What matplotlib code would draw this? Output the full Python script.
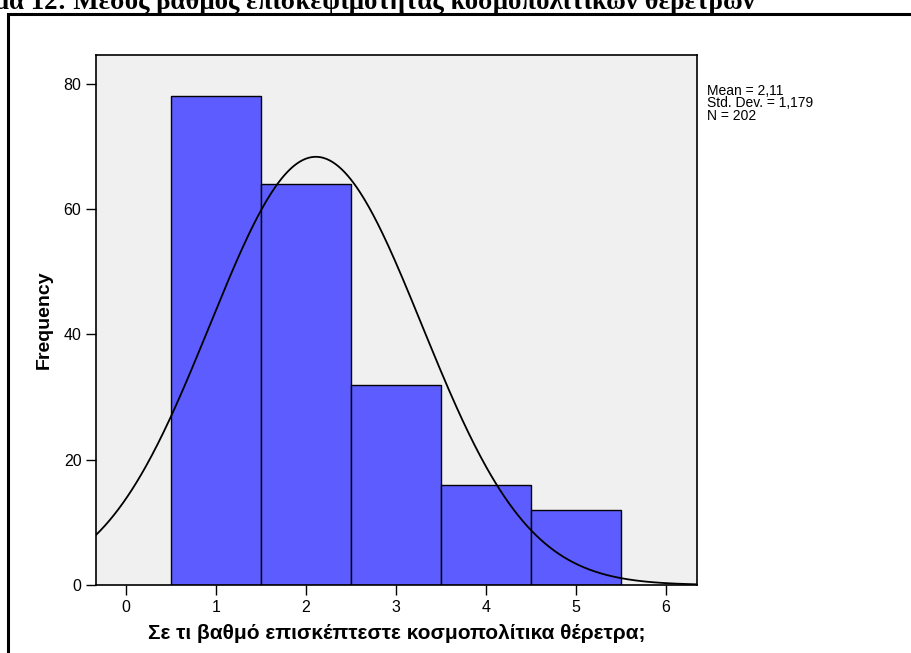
import numpy as np
import matplotlib.pyplot as plt
from matplotlib import font_manager
from matplotlib.patches import Rectangle

# ------------------------------
# DATA
# ------------------------------
scores = [1, 2, 3, 4, 5]
freqs = [78, 64, 32, 16, 12]
mean_val = 2.11
std_val = 1.179
n_total = 202
x_ticks = [0, 1, 2, 3, 4, 5, 6]
y_ticks = [0, 20, 40, 60, 80]

plt.rcParams['font.family'] = ['Liberation Sans', 'DejaVu Sans']

installed = {f.name for f in font_manager.fontManager.ttflist}
NARROW = 'Liberation Sans Narrow' if 'Liberation Sans Narrow' in installed else 'Liberation Sans'

fig = plt.figure(figsize=(9.12, 6.53), dpi=100)
fig.patch.set_facecolor('white')

# cut-off caption at the top of the page
fig.text(755 / 912, 1 - 9 / 653, "Γράφημα 12: Μέσος βαθμός επισκεψιμότητας κοσμοπολίτικων θερέτρων",
         family=['Liberation Serif', 'DejaVu Serif'], fontsize=19.4, fontweight='bold',
         ha='right', va='baseline')

# outer frame
fig.add_artist(Rectangle((8 / 912, -0.1), 1.2, 1 - 14 / 653 + 0.1, transform=fig.transFigure,
                         fill=False, edgecolor='black', linewidth=2.2, clip_on=False))

ax = fig.add_axes([96 / 912, 68 / 653, 601 / 912, 530 / 653])
ax.set_facecolor('#f0f0f0')

ax.bar(scores, freqs, width=1.0, color='#5c5cff', edgecolor='black', linewidth=1.0, zorder=2)

xs = np.linspace(-0.333, 6.35, 400)
curve = n_total * np.exp(-0.5 * ((xs - mean_val) / std_val) ** 2) / (std_val * np.sqrt(2 * np.pi))
ax.plot(xs, curve, color='black', linewidth=1.3, zorder=3)

ax.set_xlim(-0.333, 6.345)
ax.set_ylim(0, 84.6)
ax.set_xticks(x_ticks)
ax.set_yticks(y_ticks)
ax.tick_params(axis='both', direction='out', length=7, width=1, labelsize=11.5, color='black')
for lab in ax.get_xticklabels() + ax.get_yticklabels():
    lab.set_family([NARROW, 'DejaVu Sans'])
for s in ax.spines.values():
    s.set_linewidth(1.2)

ax.set_xlabel("Σε τι βαθμό επισκέπτεστε κοσμοπολίτικα θέρετρα;", fontsize=15,
              fontweight='bold', labelpad=7)
ax.set_ylabel("Frequency", fontsize=14, fontweight='bold', labelpad=8)

fig.text(707 / 912, 1 - 84 / 653, "Mean = 2,11\nStd. Dev. = 1,179\nN = 202",
         family=[NARROW, 'DejaVu Sans'], fontsize=10, ha='left', va='top', linespacing=0.85)

fig.savefig("out.png", dpi=100)
